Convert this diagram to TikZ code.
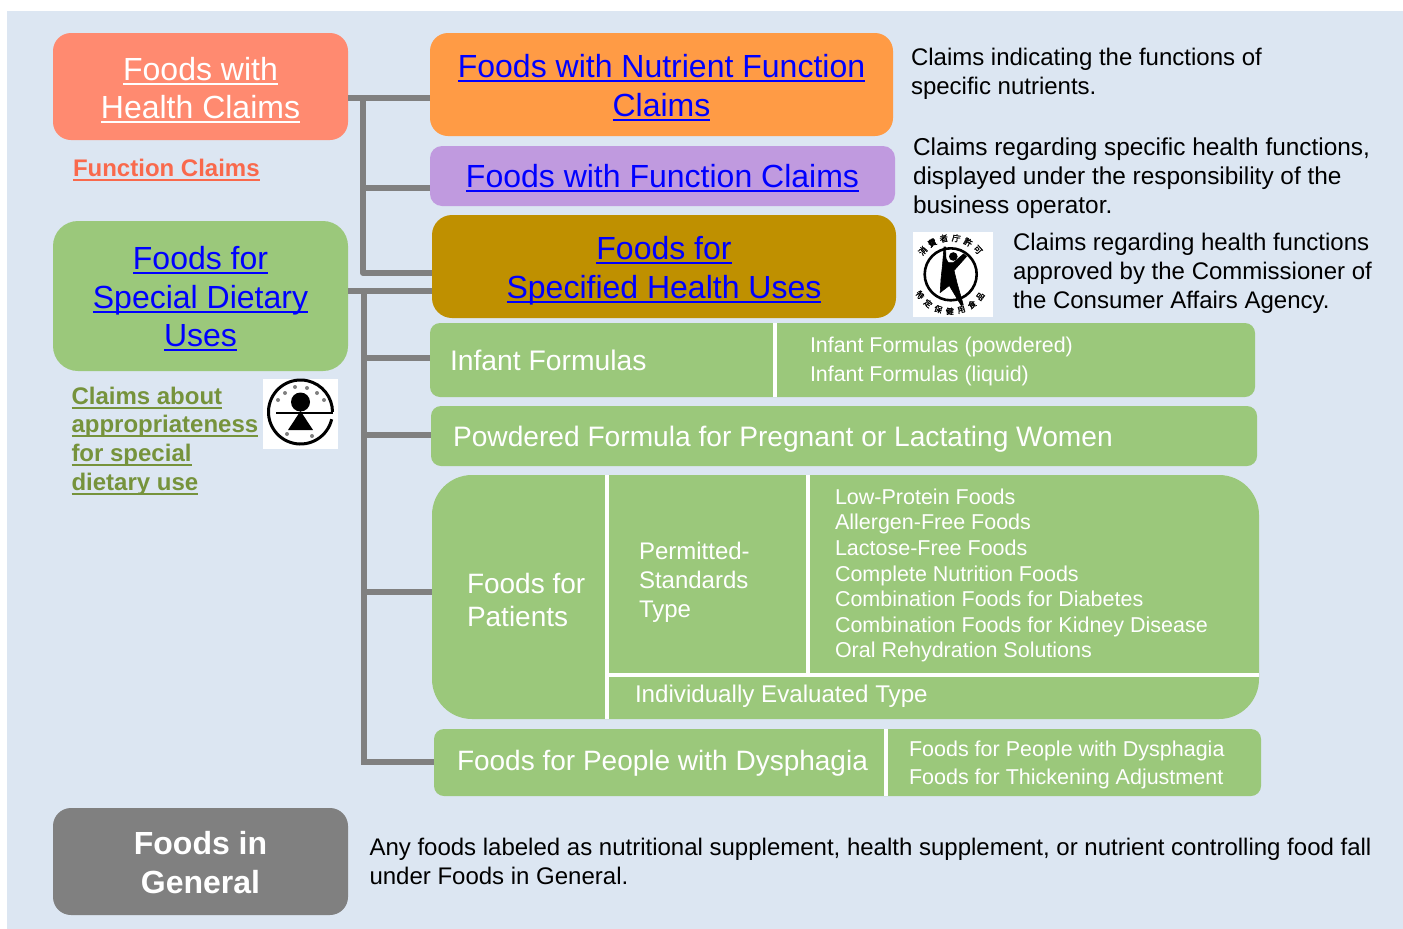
\documentclass[tikz,border=0pt]{standalone}
\usepackage[dvipsnames]{xcolor}
\usepackage{fontspec}
\usetikzlibrary{calc}
\setmainfont{Liberation Sans}
\newfontfamily\cjk{Noto Sans CJK JP}[FakeBold=1.5]
\definecolor{bgblue}{HTML}{DCE6F2}
\definecolor{salmon}{HTML}{FF8A70}
\definecolor{orangebox}{HTML}{FF9B45}
\definecolor{purplebox}{HTML}{C09ADF}
\definecolor{goldbox}{HTML}{BF9000}
\definecolor{greenbox}{HTML}{9BC87B}
\definecolor{greybox}{HTML}{808080}
\definecolor{claimred}{HTML}{F9694C}
\definecolor{claimolive}{HTML}{76933C}
\newcommand{\fsize}[2]{\fontsize{#1}{#2}\selectfont}
\newcommand{\lnk}[1]{\setbox0=\hbox{#1}\leavevmode\rlap{\smash{\rule[-4.5pt]{\wd0}{2pt}}}\box0\relax}
\tikzset{
	box/.style={inner sep=0pt, outer sep=0pt},
	boxtext/.style={inner sep=0pt, outer sep=0pt, align=center, text=blue, font=\fsize{32}{38.5}},
	hint/.style={inner sep=0pt, outer sep=0pt, align=left, anchor=west, font=\fsize{24}{29}},
	wlabel/.style={hint, text=white},
	branch/.style={draw=greybox, line width=6pt},
	divider/.style={draw=white, line width=4pt},
}
\begin{document}
\begin{tikzpicture}[x=1pt,y=-1pt]
	\useasboundingbox (0,0) rectangle (1403,929);
	\fill[white] (0,0) rectangle (1403,929);
	\fill[bgblue] (7,11) rectangle (1403,929);

	\node[box, fill=salmon, rounded corners=18pt, minimum width=295pt, minimum height=107pt] (fhc) at (200.5,86.5) {};
	\node[box, fill=greenbox, rounded corners=25pt, minimum width=295pt, minimum height=150pt] (fsdu) at (200.5,296) {};
	\node[box, fill=greybox, rounded corners=18pt, minimum width=295pt, minimum height=107pt] (general) at (200.5,861.5) {};
	\node[box, fill=orangebox, rounded corners=18pt, minimum width=463pt, minimum height=103pt] (fnfc) at (661.5,84.5) {};
	\node[box, fill=purplebox, rounded corners=12pt, minimum width=465pt, minimum height=60pt] (ffc) at (662.5,176) {};
	\node[box, fill=goldbox, rounded corners=20pt, minimum width=464pt, minimum height=103pt] (fosh) at (664,266.5) {};
	\node[box, fill=greenbox, rounded corners=10pt, minimum width=825pt, minimum height=74pt] (infant) at (842.5,360) {};
	\node[box, fill=greenbox, rounded corners=10pt, minimum width=826pt, minimum height=60pt] (powder) at (844,436) {};
	\node[box, fill=greenbox, rounded corners=40pt, minimum width=827pt, minimum height=244pt] (patient) at (845.5,597) {};
	\node[box, fill=greenbox, rounded corners=10pt, minimum width=827pt, minimum height=67pt] (dysph) at (847.5,762.5) {};

	\coordinate (hubA) at (363,98);
	\coordinate (hubB) at (364,291);
	\coordinate (endA) at (363,273);
	\coordinate (endB) at (364,762);
	\coordinate (lvlF) at (363,188);
	\coordinate (lvlI) at (364,358);
	\coordinate (lvlP) at (364,435);
	\coordinate (lvlQ) at (364,592);
	\draw[branch] (fhc.east |- hubA) -- (fnfc.west |- hubA);
	\draw[branch, line join=round] (hubA) -- (endA) -- (fosh.west |- endA);
	\draw[branch] (lvlF) -- (ffc.west |- lvlF);
	\draw[branch] (fsdu.east |- hubB) -- (fosh.west |- hubB);
	\draw[branch, line join=miter] (hubB) -- (endB) -- (dysph.west |- endB);
	\draw[branch] (lvlI) -- (infant.west |- lvlI);
	\draw[branch] (lvlP) -- (powder.west |- lvlP);
	\draw[branch] (lvlQ) -- (patient.west |- lvlQ);

	\draw[divider] (775,323) -- (775,397);
	\draw[divider] (606.5,475) -- (606.5,719);
	\draw[divider] (808,475) -- (808,675);
	\draw[divider] (606.5,675) -- (1259,675);
	\draw[divider] (886,729) -- (886,796);

	\node[boxtext, text=white] (fhcT) at (200.5,88) {\lnk{Foods with}\\\lnk{Health Claims}};
	\node[boxtext] (fsduT) at (200.5,297) {\lnk{Foods for}\\\lnk{Special Dietary}\\\lnk{Uses}};
	\node[boxtext, text=white, font=\fsize{32}{38.5}\bfseries] (generalT) at (200.5,862.5) {Foods in\\General};
	\node[boxtext] (fnfcT) at (661.5,85.5) {\lnk{Foods with Nutrient Function}\\\lnk{Claims}};
	\node[boxtext] (ffcT) at (662.5,176) {\lnk{Foods with Function Claims}};
	\node[boxtext] (foshT) at (664,270.5) {\lnk{Foods for}\\\lnk{Specified Health Uses}};

	\node[hint] (hintA) at (911,74) {Claims indicating the functions of\\specific nutrients.};
	\node[hint, font=\fsize{24.4}{29}] (hintB) at (913,178) {Claims regarding specific health functions,\\displayed under the responsibility of the\\business operator.};
	\node[hint] (hintC) at (1013,273) {Claims regarding health functions\\approved by the Commissioner of\\the Consumer Affairs Agency.};
	\node[hint] (hintD) at (369.5,861.5) {Any foods labeled as nutritional supplement, health supplement, or nutrient controlling food fall\\under Foods in General.};
	\node[hint, text=claimred, font=\fsize{24}{29}\bfseries] (fclaim) at (73,168) {\lnk{Function Claims}};
	\node[hint, text=claimolive, font=\fsize{24}{28.7}\bfseries] (sclaim) at (71.5,441) {\lnk{Claims about}\\\lnk{appropriateness}\\\lnk{for special}\\\lnk{dietary use}};

	\node[wlabel, font=\fsize{28.3}{33}] (infantA) at (450,360) {Infant Formulas};
	\node[wlabel, font=\fsize{21.4}{29.5}] (infantB) at (810,361.5) {Infant Formulas (powdered)\\Infant Formulas (liquid)};
	\node[wlabel, font=\fsize{28.15}{33}] (powderA) at (453,439.5) {Powdered Formula for Pregnant or Lactating Women};
	\node[wlabel, font=\fsize{28}{33}] (patientA) at (467,599.5) {Foods for\\Patients};
	\node[wlabel] (patientB) at (639,582) {Permitted-\\Standards\\Type};
	\node[wlabel, font=\fsize{21.5}{25.6}] (patientC) at (835,575.5) {Low-Protein Foods\\Allergen-Free Foods\\Lactose-Free Foods\\Complete Nutrition Foods\\Combination Foods for Diabetes\\Combination Foods for Kidney Disease\\Oral Rehydration Solutions};
	\node[wlabel, font=\fsize{24.15}{29}] (patientD) at (635,696) {Individually Evaluated Type};
	\node[wlabel, font=\fsize{28}{33}] (dysphA) at (457,763) {Foods for People with Dysphagia};
	\node[wlabel, font=\fsize{21.5}{28}] (dysphB) at (909,765) {Foods for People with Dysphagia\\Foods for Thickening Adjustment};

	\fill[white] (263,379) rectangle (338,449);
	\draw[line width=3pt] (300.5,412) ++(13:32) arc (13:360:32);
	\fill (300.5,402) circle (9.5);
	\draw[line width=2.5pt] (276,413) -- (333,413);
	\fill (300.5,411) -- (313,430) -- (288,430) -- cycle;
	\foreach \px/\py in {278/400,285/393,295/387,307/388,317/393,324/400,287/434,312/436}
		\fill[black!50] (\px,\py) circle (2);

	\fill[white] (913,232) rectangle (993,317);
	\draw[line width=2.6pt] (950.7,274.3) circle (26);
	\filldraw[fill=black, draw=black, line width=0.6pt] (944,247) -- (942.5,265) -- (941,279) -- (940.2,292.5) -- (949.3,285.5) -- (961.2,305.5) -- (963.2,304.5) -- (957.2,283.7) -- (954,270.5) -- (966.5,256.5) -- (963.5,254) -- (953.3,262.7) -- (948.3,262.7) -- (946,258.7) -- (945.5,247) -- cycle;
	\fill (953.3,256.5) circle (4.3);
	\foreach \ch [count=\i] in {消,費,者,庁,許,可} {
		\pgfmathsetmacro{\ang}{140-(\i-1)*19.6}
		\node[inner sep=0pt, font=\cjk\fsize{8.5}{10}, rotate=\ang-90] (top\i) at ($(950.7,274.3)+(\ang:36.5 and -36.5)$) {\ch};
	}
	\foreach \ch [count=\i] in {特,定,保,健,用,食,品} {
		\pgfmathsetmacro{\ang}{214+(\i-1)*18.2}
		\node[inner sep=0pt, font=\cjk\fsize{8}{10}, rotate=\ang+90] (low\i) at ($(950.7,274.3)+(\ang:37 and -37)$) {\ch};
	}
\end{tikzpicture}
\end{document}
